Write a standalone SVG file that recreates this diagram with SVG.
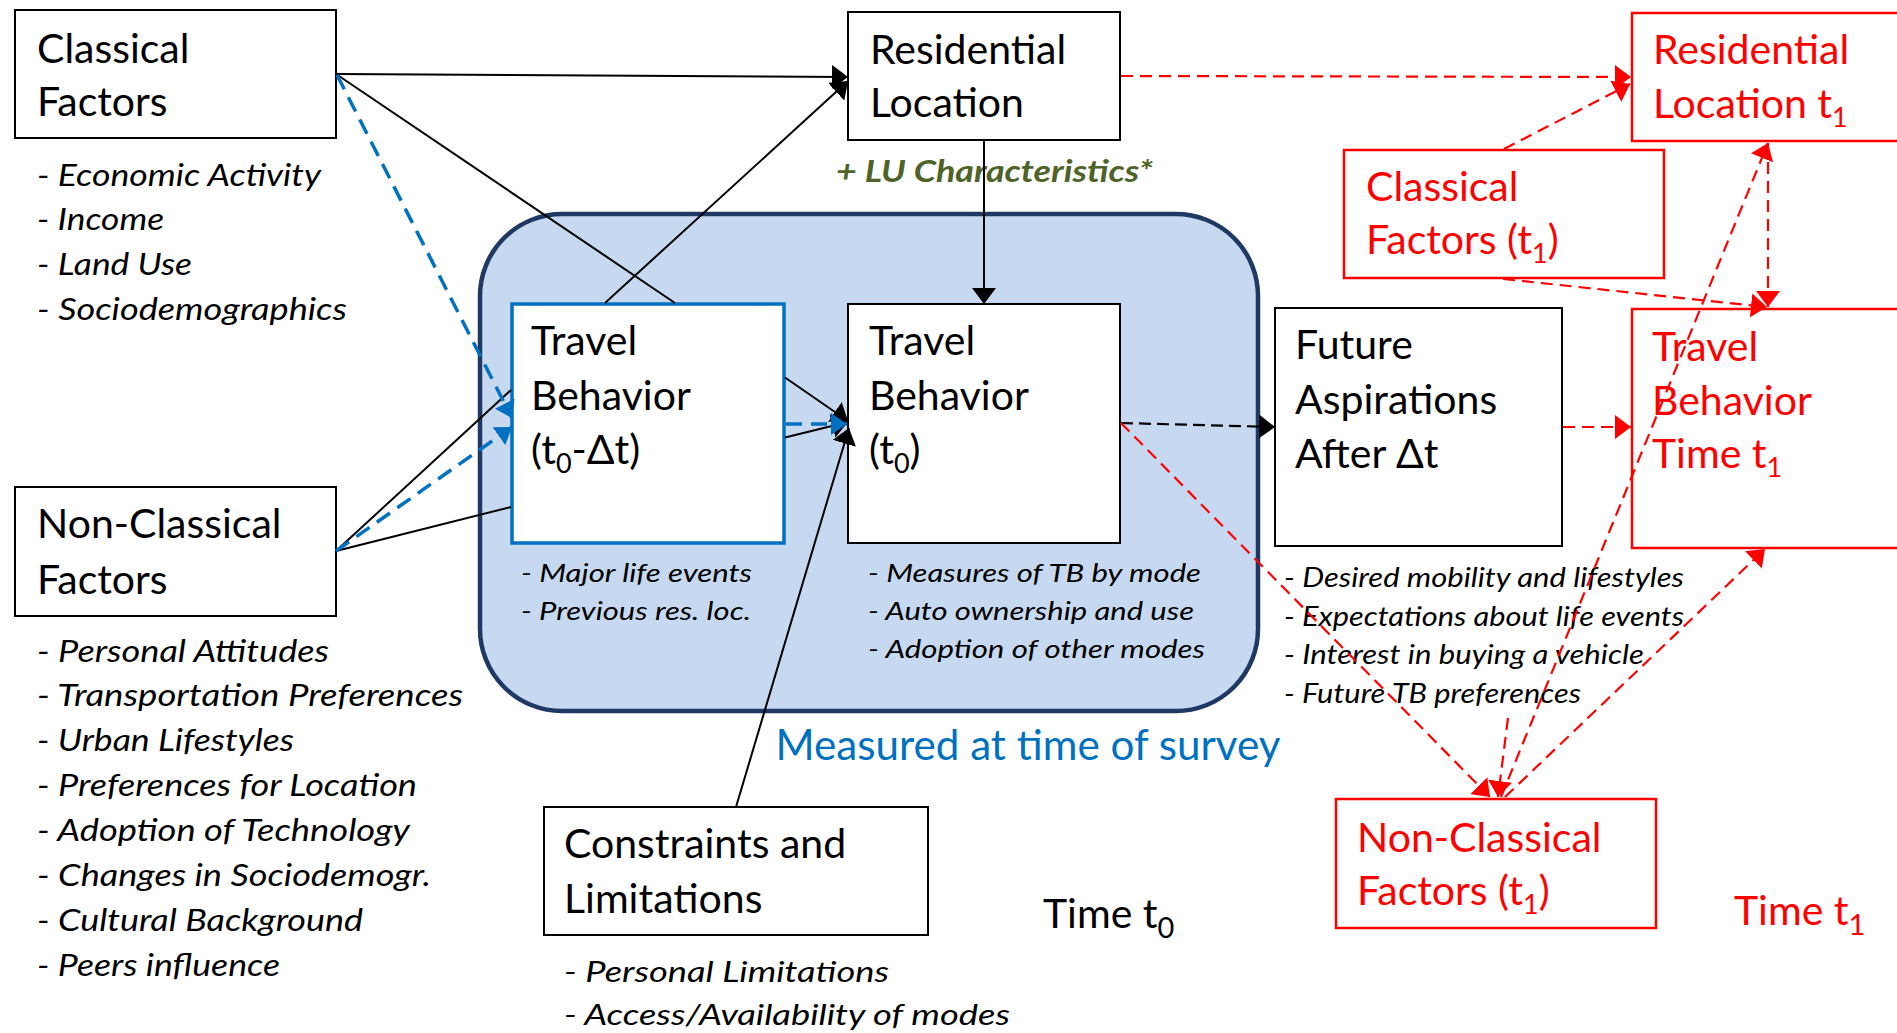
<svg xmlns="http://www.w3.org/2000/svg" width="1897" height="1033" viewBox="0 0 1897 1033">
<style>
.box{fill:#fff;stroke:#000;stroke-width:2}
.rbox{fill:#fff;stroke:#FF0000;stroke-width:2.5}
.bbox{fill:#fff;stroke:#0070C0;stroke-width:3.5}
.t{font-family:Lato,"Liberation Sans",sans-serif;font-size:41px;fill:#000}
.tr{font-family:Lato,"Liberation Sans",sans-serif;font-size:41px;fill:#FF0000}
.sub{font-size:27px}
.bl{font-family:Lato,"Liberation Sans",sans-serif;font-style:italic;fill:#000}
.k{stroke:#000;stroke-width:2;fill:none}
.kd{stroke:#000;stroke-width:2.2;stroke-dasharray:12 6;fill:none}
.bd{stroke:#0070C0;stroke-width:3.5;stroke-dasharray:16 9;fill:none}
.rd{stroke:#FF0000;stroke-width:2.2;stroke-dasharray:12 7;fill:none}
</style>
<defs>
<marker id="ak" viewBox="0 0 16 24" refX="16" refY="12" markerWidth="16" markerHeight="24" markerUnits="userSpaceOnUse" orient="auto"><path d="M0,0 L16,12 L0,24z" fill="#000"/></marker>
<marker id="ar" viewBox="0 0 16 24" refX="16" refY="12" markerWidth="16" markerHeight="24" markerUnits="userSpaceOnUse" orient="auto"><path d="M0,0 L16,12 L0,24z" fill="#FF0000"/></marker>
<marker id="ab" viewBox="0 0 16 22" refX="16" refY="11" markerWidth="16" markerHeight="22" markerUnits="userSpaceOnUse" orient="auto"><path d="M0,0 L16,11 L0,22z" fill="#0070C0"/></marker>
</defs>
<rect width="1897" height="1033" fill="#fff"/>

<g id="survey-frame">
<rect x="480" y="214" width="778" height="497" rx="82" ry="82" fill="#C6D9F1" stroke="#1F3864" stroke-width="4.5"/>
<text x="775.5" y="760" font-family="Lato,'Liberation Sans',sans-serif" font-size="42" fill="#0070C0" textLength="505" lengthAdjust="spacingAndGlyphs">Measured at time of survey</text>
</g>

<g id="classical-factors">
<rect class="box" x="15" y="10" width="321" height="128"/>
<text class="t" x="37" y="63">Classical</text>
<text class="t" x="37" y="116">Factors</text>
<g class="bl" font-size="31">
<text x="37" y="186" textLength="284" lengthAdjust="spacingAndGlyphs">- Economic Activity</text>
<text x="37" y="230" textLength="127" lengthAdjust="spacingAndGlyphs">- Income</text>
<text x="37" y="275" textLength="155" lengthAdjust="spacingAndGlyphs">- Land Use</text>
<text x="37" y="320" textLength="310" lengthAdjust="spacingAndGlyphs">- Sociodemographics</text>
</g>
</g>

<g id="non-classical-factors">
<rect class="box" x="15" y="487" width="321" height="129"/>
<text class="t" x="37" y="538">Non-Classical</text>
<text class="t" x="37" y="594">Factors</text>
<g class="bl" font-size="31">
<text x="37" y="662" textLength="292" lengthAdjust="spacingAndGlyphs">- Personal Attitudes</text>
<text x="37" y="706" textLength="426" lengthAdjust="spacingAndGlyphs">- Transportation Preferences</text>
<text x="37" y="751" textLength="257" lengthAdjust="spacingAndGlyphs">- Urban Lifestyles</text>
<text x="37" y="796" textLength="380" lengthAdjust="spacingAndGlyphs">- Preferences for Location</text>
<text x="37" y="841" textLength="373" lengthAdjust="spacingAndGlyphs">- Adoption of Technology</text>
<text x="37" y="886" textLength="394" lengthAdjust="spacingAndGlyphs">- Changes in Sociodemogr.</text>
<text x="37" y="931" textLength="326" lengthAdjust="spacingAndGlyphs">- Cultural Background</text>
<text x="37" y="976" textLength="243" lengthAdjust="spacingAndGlyphs">- Peers influence</text>
</g>
</g>

<g id="residential-location">
<rect class="box" x="848" y="12" width="272" height="128"/>
<text class="t" x="870" y="64">Residential</text>
<text class="t" x="870" y="117">Location</text>
<text x="836" y="182" font-family="Lato,'Liberation Sans',sans-serif" font-size="31" font-weight="bold" font-style="italic" fill="#4F6228" textLength="317" lengthAdjust="spacingAndGlyphs">+ LU Characteristics*</text>
</g>

<g id="travel-behavior-past">
<rect class="bbox" x="512" y="304" width="272" height="239"/>
<text class="t" x="531" y="355">Travel</text>
<text class="t" x="531" y="410">Behavior</text>
<text class="t" x="531" y="464">(t<tspan class="sub" dy="9">0</tspan><tspan dy="-9">-Δt)</tspan></text>
<g class="bl" font-size="26">
<text x="521" y="582" textLength="231" lengthAdjust="spacingAndGlyphs">- Major life events</text>
<text x="521" y="620" textLength="230" lengthAdjust="spacingAndGlyphs">- Previous res. loc.</text>
</g>
</g>

<g id="travel-behavior-t0">
<rect class="box" x="848" y="304" width="272" height="239"/>
<text class="t" x="869" y="355">Travel</text>
<text class="t" x="869" y="410">Behavior</text>
<text class="t" x="869" y="464">(t<tspan class="sub" dy="9">0</tspan><tspan dy="-9">)</tspan></text>
<g class="bl" font-size="26">
<text x="868" y="582" textLength="333" lengthAdjust="spacingAndGlyphs">- Measures of TB by mode</text>
<text x="868" y="620" textLength="326" lengthAdjust="spacingAndGlyphs">- Auto ownership and use</text>
<text x="868" y="658" textLength="337" lengthAdjust="spacingAndGlyphs">- Adoption of other modes</text>
</g>
</g>

<g id="future-aspirations">
<rect class="box" x="1275" y="308" width="287" height="238"/>
<text class="t" x="1295" y="359">Future</text>
<text class="t" x="1295" y="414">Aspirations</text>
<text class="t" x="1295" y="468">After Δt</text>
<g class="bl" font-size="27">
<text x="1284" y="587" textLength="400" lengthAdjust="spacingAndGlyphs">- Desired mobility and lifestyles</text>
<text x="1284" y="626" textLength="400" lengthAdjust="spacingAndGlyphs">- Expectations about life events</text>
<text x="1284" y="664" textLength="360" lengthAdjust="spacingAndGlyphs">- Interest in buying a vehicle</text>
<text x="1284" y="703" textLength="297" lengthAdjust="spacingAndGlyphs">- Future TB preferences</text>
</g>
</g>

<g id="constraints">
<rect class="box" x="544" y="807" width="384" height="128"/>
<text class="t" x="564" y="858">Constraints and</text>
<text class="t" x="564" y="913">Limitations</text>
<g class="bl" font-size="29">
<text x="564" y="982" textLength="325" lengthAdjust="spacingAndGlyphs">- Personal Limitations</text>
<text x="564" y="1025" textLength="446" lengthAdjust="spacingAndGlyphs">- Access/Availability of modes</text>
</g>
</g>

<g id="time-t0">
<text class="t" x="1043" y="928">Time t<tspan font-size="29" dy="10">0</tspan></text>
</g>

<g id="residential-location-t1">
<rect class="rbox" x="1632" y="13" width="300" height="128"/>
<text class="tr" x="1653" y="64">Residential</text>
<text class="tr" x="1653" y="118">Location t<tspan class="sub" dy="9">1</tspan></text>
</g>

<g id="classical-factors-t1">
<rect class="rbox" x="1344" y="150" width="320" height="128"/>
<text class="tr" x="1366" y="201">Classical</text>
<text class="tr" x="1366" y="254">Factors (t<tspan class="sub" dy="9">1</tspan><tspan dy="-9">)</tspan></text>
</g>

<g id="travel-behavior-t1">
<rect class="rbox" x="1632" y="309" width="300" height="239"/>
<text class="tr" x="1652" y="361">Travel</text>
<text class="tr" x="1652" y="415">Behavior</text>
<text class="tr" x="1652" y="468">Time t<tspan class="sub" dy="9">1</tspan></text>
</g>

<g id="non-classical-factors-t1">
<rect class="rbox" x="1336" y="799" width="320" height="129"/>
<text class="tr" x="1357" y="852">Non-Classical</text>
<text class="tr" x="1357" y="905">Factors (t<tspan class="sub" dy="9">1</tspan><tspan dy="-9">)</tspan></text>
</g>

<g id="time-t1">
<text class="tr" x="1734" y="925">Time t<tspan font-size="29" dy="10">1</tspan></text>
</g>

<g id="connectors">
<line class="k" x1="336" y1="74" x2="848" y2="77" marker-end="url(#ak)"/>
<line class="k" x1="336" y1="551" x2="511" y2="390"/>
<line class="k" x1="605" y1="303" x2="848" y2="81" marker-end="url(#ak)"/>
<line class="k" x1="336" y1="74" x2="675" y2="303"/>
<line class="k" x1="785" y1="377.5" x2="848" y2="421" marker-end="url(#ak)"/>
<line class="k" x1="336" y1="551" x2="511" y2="507"/>
<line class="k" x1="785" y1="437.5" x2="848" y2="422" marker-end="url(#ak)"/>
<line class="k" x1="736" y1="807" x2="849" y2="428" marker-end="url(#ak)"/>
<line class="k" x1="984" y1="141" x2="984" y2="304" marker-end="url(#ak)"/>
<line class="kd" x1="1121" y1="423" x2="1275" y2="427" marker-end="url(#ak)"/>
<line class="bd" x1="337" y1="75" x2="512" y2="418" marker-end="url(#ab)"/>
<line class="bd" x1="336" y1="551" x2="512" y2="427" marker-end="url(#ab)"/>
<line class="bd" x1="786" y1="424" x2="847" y2="424" marker-end="url(#ab)"/>
<line class="rd" x1="1121" y1="76" x2="1631" y2="77" marker-end="url(#ar)"/>
<line class="rd" x1="1504" y1="149" x2="1630" y2="84" marker-end="url(#ar)"/>
<line class="rd" x1="1503" y1="279" x2="1767" y2="307" marker-end="url(#ar)"/>
<line class="rd" x1="1768" y1="143" x2="1768" y2="307" marker-end="url(#ar)"/>
<line class="rd" x1="1563" y1="427" x2="1631" y2="427" marker-end="url(#ar)"/>
<line class="rd" x1="1121" y1="423" x2="1490" y2="797" marker-end="url(#ar)"/>
<line class="rd" x1="1501" y1="797" x2="1768" y2="143" marker-end="url(#ar)"/>
<line class="rd" x1="1505" y1="797" x2="1765" y2="549" marker-end="url(#ar)"/>
<line class="rd" x1="1508" y1="718" x2="1498" y2="797" marker-end="url(#ar)"/>
</g>
</svg>
